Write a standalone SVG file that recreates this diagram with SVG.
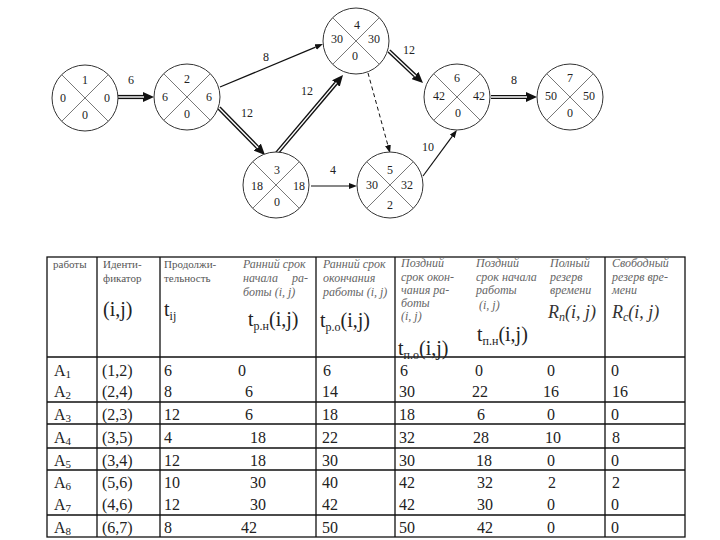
<svg xmlns="http://www.w3.org/2000/svg" width="720" height="540" viewBox="0 0 720 540" font-family="'Liberation Serif', 'DejaVu Serif', serif">
<style>
text{font-family:'Liberation Serif','DejaVu Serif',serif}
.bg{fill:#fff}
.c{fill:#fff;stroke:#333;stroke-width:1}
.x{stroke:#555;stroke-width:0.8;fill:none}
.nt{font-size:12px;fill:#222;text-anchor:middle}
.lb{font-size:12px;fill:#222;text-anchor:middle}
.s{stroke:#111;stroke-width:1.2;fill:none}
.d1{stroke:#111;stroke-width:4.2;fill:none}
.d2{stroke:#fff;stroke-width:1.4;fill:none}
.ds{stroke:#111;stroke-width:1;fill:none;stroke-dasharray:4 3}
.tl{stroke:#111;stroke-width:1.3;fill:none}
.h{font-size:11px;fill:#555}
.hi{font-size:12px;fill:#666;font-style:italic}
.f{font-size:20px;fill:#222}
.fi{font-size:18px;fill:#333;font-style:italic}
.v{font-size:16px;fill:#222}
</style>
<defs>
<marker id="ab" viewBox="0 -5 11 10" refX="0" refY="0" markerWidth="11" markerHeight="10" markerUnits="userSpaceOnUse" orient="auto"><path d="M0,-5 L11,0 L0,5 z" fill="#111"/></marker>
<marker id="as" viewBox="0 -3 8 6" refX="0" refY="0" markerWidth="8" markerHeight="6" markerUnits="userSpaceOnUse" orient="auto"><path d="M0,-3 L8,0 L0,3 z" fill="#111"/></marker>
</defs>
<rect class="bg" x="0" y="0" width="720" height="540"/>

<g id="connectors">
  <line class="d1" x1="118" y1="97" x2="143" y2="97" marker-end="url(#ab)"/>
  <line class="d2" x1="118" y1="97" x2="144" y2="97"/>
  <line class="s" x1="220" y1="87" x2="315.6" y2="47.1" marker-end="url(#as)"/>
  <line class="d1" x1="219" y1="108" x2="257.3" y2="147.1" marker-end="url(#ab)"/>
  <line class="d2" x1="219" y1="108" x2="258" y2="147.8"/>
  <line class="d1" x1="277" y1="153" x2="335.9" y2="83.4" marker-end="url(#ab)"/>
  <line class="d2" x1="277" y1="153" x2="336.5" y2="82.6"/>
  <line class="s" x1="311" y1="186" x2="349" y2="186" marker-end="url(#as)"/>
  <line class="ds" x1="368" y1="73" x2="387.9" y2="145.3" marker-end="url(#as)"/>
  <line class="d1" x1="389" y1="51" x2="415" y2="75.5" marker-end="url(#ab)"/>
  <line class="d2" x1="389" y1="51" x2="415.7" y2="76.2"/>
  <line class="s" x1="423" y1="176" x2="452.2" y2="136.4" marker-end="url(#as)"/>
  <line class="d1" x1="491" y1="97" x2="526" y2="97" marker-end="url(#ab)"/>
  <line class="d2" x1="491" y1="97" x2="527" y2="97"/>
  <text class="lb" x="131" y="84">6</text>
  <text class="lb" x="266" y="61">8</text>
  <text class="lb" x="247" y="117">12</text>
  <text class="lb" x="307" y="95">12</text>
  <text class="lb" x="333" y="174">4</text>
  <text class="lb" x="409" y="54">12</text>
  <text class="lb" x="428" y="151">10</text>
  <text class="lb" x="514" y="84">8</text>
</g>

<g id="node1">
  <circle class="c" cx="85" cy="98" r="33"/>
  <path class="x" d="M61.7,74.7 L108.3,121.3 M108.3,74.7 L61.7,121.3"/>
  <text class="nt" x="85" y="84">1</text><text class="nt" x="63" y="102">0</text><text class="nt" x="107" y="102">0</text><text class="nt" x="85" y="119">0</text>
</g>
<g id="node2">
  <circle class="c" cx="187" cy="97" r="33"/>
  <path class="x" d="M163.7,73.7 L210.3,120.3 M210.3,73.7 L163.7,120.3"/>
  <text class="nt" x="187" y="83">2</text><text class="nt" x="165" y="101">6</text><text class="nt" x="209" y="101">6</text><text class="nt" x="187" y="118">0</text>
</g>
<g id="node3">
  <circle class="c" cx="276" cy="185" r="33"/>
  <path class="x" d="M252.7,161.7 L299.3,208.3 M299.3,161.7 L252.7,208.3"/>
  <text class="nt" x="277" y="174">3</text><text class="nt" x="257" y="190">18</text><text class="nt" x="299" y="190">18</text><text class="nt" x="277" y="206">0</text>
</g>
<g id="node4">
  <circle class="c" cx="356" cy="41" r="33"/>
  <path class="x" d="M332.7,17.7 L379.3,64.3 M379.3,17.7 L332.7,64.3"/>
  <text class="nt" x="357" y="29">4</text><text class="nt" x="337" y="43">30</text><text class="nt" x="374" y="43">30</text><text class="nt" x="355" y="60">0</text>
</g>
<g id="node5">
  <circle class="c" cx="390" cy="185" r="33"/>
  <path class="x" d="M366.7,161.7 L413.3,208.3 M413.3,161.7 L366.7,208.3"/>
  <text class="nt" x="390" y="174">5</text><text class="nt" x="372" y="189">30</text><text class="nt" x="407" y="189">32</text><text class="nt" x="390" y="209">2</text>
</g>
<g id="node6">
  <circle class="c" cx="457" cy="97" r="33"/>
  <path class="x" d="M433.7,73.7 L480.3,120.3 M480.3,73.7 L433.7,120.3"/>
  <text class="nt" x="457" y="82">6</text><text class="nt" x="439" y="100">42</text><text class="nt" x="479" y="100">42</text><text class="nt" x="458" y="117">0</text>
</g>
<g id="node7">
  <circle class="c" cx="570" cy="97" r="33"/>
  <path class="x" d="M546.7,73.7 L593.3,120.3 M593.3,73.7 L546.7,120.3"/>
  <text class="nt" x="570" y="82">7</text><text class="nt" x="551" y="100">50</text><text class="nt" x="589" y="100">50</text><text class="nt" x="570" y="117">0</text>
</g>

<g id="table">
  <rect class="tl" x="47" y="257" width="638" height="280"/>
  <path class="tl" d="M47,357 H685 M47,402 H685 M47,424 H685 M47,448 H685 M47,470 H685 M47,515 H685"/>
  <path class="tl" d="M97,257 V537 M160,257 V537 M316,257 V537 M395,257 V537 M605,257 V537"/>

  <text class="h" x="53" y="268">работы</text>
  <text class="h" x="103" y="268">Иденти-</text>
  <text class="h" x="103" y="282">фикатор</text>
  <text class="f" x="103" y="316">(i,j)</text>
  <text class="h" x="164" y="268">Продолжи-</text>
  <text class="h" x="164" y="282">тельность</text>
  <text class="f" x="164" y="316">t<tspan font-size="12" dy="4">ij</tspan></text>

  <text class="hi" x="243" y="268">Ранний срок</text>
  <text class="hi" x="243" y="282">начала</text><text class="hi" x="292" y="282">ра-</text>
  <text class="hi" x="243" y="296">боты (i, j)</text>
  <text class="f" x="248" y="326">t<tspan font-size="12" dy="4">р.н</tspan><tspan dy="-4">(i,j)</tspan></text>

  <text class="hi" x="323" y="268">Ранний срок</text>
  <text class="hi" x="323" y="282">окончания</text>
  <text class="hi" x="323" y="296">работы (i, j)</text>
  <text class="f" x="320" y="327">t<tspan font-size="12" dy="4">р.о</tspan><tspan dy="-4">(i,j)</tspan></text>

  <text class="hi" x="401" y="267">Поздний</text>
  <text class="hi" x="401" y="281">срок окон-</text>
  <text class="hi" x="401" y="294">чания ра-</text>
  <text class="hi" x="401" y="307">боты</text>
  <text class="hi" x="401" y="320">(i, j)</text>
  <text class="f" x="398" y="355">t<tspan font-size="12" dy="4">п.о</tspan><tspan dy="-4">(i,j)</tspan></text>

  <text class="hi" x="476" y="267">Поздний</text>
  <text class="hi" x="476" y="281">срок начала</text>
  <text class="hi" x="476" y="294">работы</text>
  <text class="hi" x="479" y="309">(i, j)</text>
  <text class="f" x="477" y="341">t<tspan font-size="12" dy="4">п.н</tspan><tspan dy="-4">(i,j)</tspan></text>

  <text class="hi" x="550" y="267">Полный</text>
  <text class="hi" x="550" y="281">резерв</text>
  <text class="hi" x="550" y="294">времени</text>
  <text class="fi" x="548" y="318">R<tspan font-size="12" dy="3">п</tspan><tspan dy="-3">(i, j)</tspan></text>

  <text class="hi" x="612" y="267">Свободный</text>
  <text class="hi" x="612" y="281">резерв вре-</text>
  <text class="hi" x="612" y="294">мени</text>
  <text class="fi" x="612" y="318">R<tspan font-size="12" dy="3">с</tspan><tspan dy="-3">(i, j)</tspan></text>

  <g class="v">
    <text x="54" y="376">A<tspan font-size="11" dy="2">1</tspan></text>
    <text x="54" y="397">A<tspan font-size="11" dy="2">2</tspan></text>
    <text x="54" y="420">A<tspan font-size="11" dy="2">3</tspan></text>
    <text x="54" y="443">A<tspan font-size="11" dy="2">4</tspan></text>
    <text x="54" y="466">A<tspan font-size="11" dy="2">5</tspan></text>
    <text x="54" y="488">A<tspan font-size="11" dy="2">6</tspan></text>
    <text x="54" y="510">A<tspan font-size="11" dy="2">7</tspan></text>
    <text x="54" y="533">A<tspan font-size="11" dy="2">8</tspan></text>

    <text x="102" y="376">(1,2)</text>
    <text x="102" y="397">(2,4)</text>
    <text x="102" y="420">(2,3)</text>
    <text x="102" y="443">(3,5)</text>
    <text x="102" y="466">(3,4)</text>
    <text x="102" y="488">(5,6)</text>
    <text x="102" y="510">(4,6)</text>
    <text x="102" y="533">(6,7)</text>

    <text x="164" y="376">6</text>
    <text x="164" y="397">8</text>
    <text x="164" y="420">12</text>
    <text x="164" y="443">4</text>
    <text x="164" y="466">12</text>
    <text x="164" y="488">10</text>
    <text x="164" y="510">12</text>
    <text x="164" y="533">8</text>

    <text x="238" y="376">0</text>
    <text x="245" y="397">6</text>
    <text x="245" y="420">6</text>
    <text x="250" y="443">18</text>
    <text x="250" y="466">18</text>
    <text x="250" y="488">30</text>
    <text x="250" y="510">30</text>
    <text x="241" y="533">42</text>

    <text x="323" y="376">6</text>
    <text x="322" y="397">14</text>
    <text x="322" y="420">18</text>
    <text x="322" y="443">22</text>
    <text x="322" y="466">30</text>
    <text x="322" y="488">40</text>
    <text x="322" y="510">42</text>
    <text x="322" y="533">50</text>

    <text x="400" y="376">6</text>
    <text x="399" y="397">30</text>
    <text x="399" y="420">18</text>
    <text x="399" y="443">32</text>
    <text x="399" y="466">30</text>
    <text x="399" y="488">42</text>
    <text x="399" y="510">42</text>
    <text x="399" y="533">50</text>

    <text x="475" y="376">0</text>
    <text x="472" y="397">22</text>
    <text x="477" y="420">6</text>
    <text x="473" y="443">28</text>
    <text x="476" y="466">18</text>
    <text x="477" y="488">32</text>
    <text x="477" y="510">30</text>
    <text x="477" y="533">42</text>

    <text x="547" y="376">0</text>
    <text x="543" y="397">16</text>
    <text x="547" y="420">0</text>
    <text x="545" y="443">10</text>
    <text x="547" y="466">0</text>
    <text x="548" y="488">2</text>
    <text x="547" y="510">0</text>
    <text x="547" y="533">0</text>

    <text x="611" y="376">0</text>
    <text x="612" y="397">16</text>
    <text x="611" y="420">0</text>
    <text x="612" y="443">8</text>
    <text x="611" y="466">0</text>
    <text x="612" y="488">2</text>
    <text x="611" y="510">0</text>
    <text x="611" y="533">0</text>
  </g>
</g>
</svg>
